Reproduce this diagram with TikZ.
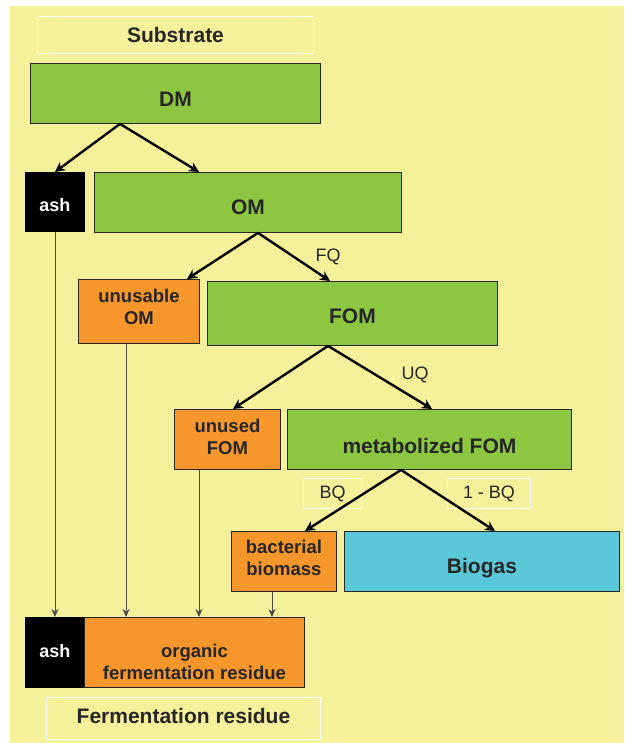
\documentclass[tikz,border=0pt]{standalone}
\usepackage{fontspec}
\setmainfont{Liberation Sans}
\usepackage{xcolor}
\usetikzlibrary{
    arrows.meta,
    positioning,
    calc
}
\definecolor{paper}{HTML}{F5F09A}
\definecolor{leaf}{HTML}{8DC641}
\definecolor{residue}{HTML}{F7962B}
\definecolor{gas}{HTML}{5BC8DA}
\definecolor{dark}{HTML}{262626}
\definecolor{wire}{HTML}{4A4A4A}
\tikzset{
    % Base fraction box
    fraction/.style={
        rectangle,
        anchor=north west,
        inner sep=0pt,
        align=center,
        font=\fontsize{21}{24}\selectfont\bfseries,
        text=dark,
        draw=dark,
        fill=#1,
        line width=0.9pt
    },
    % Two-line fraction box
    small fraction/.style={
        fraction=#1,
        font=\fontsize{18.5}{22}\selectfont\bfseries
    },
    % Ash box
    ash box/.style={
        fraction=black,
        draw=black,
        text=white,
        font=\fontsize{18}{22}\selectfont\bfseries
    },
    % Text sitting a little off the middle
    sunk/.style={
        text height=#1,
        text depth=0pt
    },
    % Caption frame
    caption/.style={
        rectangle,
        anchor=north west,
        inner sep=0pt,
        draw=white,
        line width=1pt,
        font=\fontsize{21}{24}\selectfont\bfseries,
        text=dark
    },
    % Arrow styles
    split/.style={
        -{Stealth[length=10pt, width=10pt]},
        line width=2.4pt,
        draw=black
    },
    feed/.style={
        -{Stealth[length=8pt, width=7pt]},
        line width=0.9pt,
        draw=wire
    },
    % Quota labels
    quota/.style={
        font=\fontsize{18}{21}\selectfont,
        text=dark
    },
    quota box/.style={
        quota,
        rectangle,
        anchor=north west,
        inner sep=0pt,
        draw=white,
        line width=1pt
    }
}

\begin{document}
\begin{tikzpicture}[x=1pt, y=-1pt]
    \useasboundingbox (0,0) rectangle (624,743);
    \fill[paper] (10,6) rectangle (624,743);

    % Substrate side
    \node[caption, minimum width=276, minimum height=37] (substrate) at (37,16) {Substrate};
    \node[fraction=leaf, sunk=26pt, minimum width=290, minimum height=60] (dm) at (30,63) {DM};
    \node[ash box, sunk=20pt, minimum width=59, minimum height=59] (ashin) at (25,172) {ash};
    \node[fraction=leaf, sunk=24pt, minimum width=307, minimum height=60] (om) at (94,172) {OM};
    \node[small fraction=residue, sunk=26pt, minimum width=121, minimum height=64] (unusable) at (78,279) {unusable\\OM};
    \node[fraction=leaf, sunk=20pt, minimum width=290, minimum height=64] (fom) at (207,281) {FOM};
    \node[small fraction=residue, sunk=31pt, minimum width=106, minimum height=60] (unused) at (174,409) {unused\\FOM};
    \node[fraction=leaf, sunk=28pt, minimum width=284, minimum height=60] (metab) at (287,409) {metabolized FOM};
    \node[small fraction=residue, sunk=29pt, minimum width=105, minimum height=60] (bacteria) at (231,531) {bacterial\\biomass};
    \node[fraction=gas, sunk=24pt, minimum width=275, minimum height=60] (biogas) at (344,531) {Biogas};

    % Quotas
    \node[quota] (fq) at (328,257) {FQ};
    \node[quota] (uq) at (415,375) {UQ};
    \node[quota box, minimum width=58, minimum height=30] (bq) at (303,478) {BQ};
    \node[quota box, minimum width=83, minimum height=30] (nbq) at (447,478) {1 - BQ};

    % Fermentation residue side
    \node[ash box, sunk=10pt, minimum width=59, minimum height=70] (ashout) at (25,617) {ash};
    \node[small fraction=residue, sunk=54pt, minimum width=220, minimum height=70] (organic) at (84,617) {organic\\fermentation residue};
    \node[caption, sunk=10pt, minimum width=274, minimum height=42] (residue) at (46,697) {Fermentation residue};

    % Splits
    \draw[split] ([xshift=90pt]dm.south west) -- (ashin.north);
    \draw[split] ([xshift=90pt]dm.south west) -- ([xshift=105pt]om.north west);
    \draw[split] ([xshift=164pt]om.south west) -- ([xshift=109pt]unusable.north west);
    \draw[split] ([xshift=164pt]om.south west) -- ([xshift=123pt]fom.north west);
    \draw[split] ([xshift=121pt]fom.south west) -- ([xshift=59pt]unused.north west);
    \draw[split] ([xshift=121pt]fom.south west) -- ([xshift=145pt]metab.north west);
    \draw[split] ([xshift=114pt]metab.south west) -- ([xshift=74pt]bacteria.north west);
    \draw[split] ([xshift=114pt]metab.south west) -- ([xshift=151pt]biogas.north west);

    % Feeds into the residue
    \draw[feed] (ashin.south) -- (ashout.north);
    \draw[feed] ([xshift=48pt]unusable.south west) -- ([xshift=48pt]unusable.south west |- organic.north);
    \draw[feed] ([xshift=25pt]unused.south west) -- ([xshift=25pt]unused.south west |- organic.north);
    \draw[feed] ([xshift=41pt]bacteria.south west) -- ([xshift=41pt]bacteria.south west |- organic.north);
\end{tikzpicture}
\end{document}
